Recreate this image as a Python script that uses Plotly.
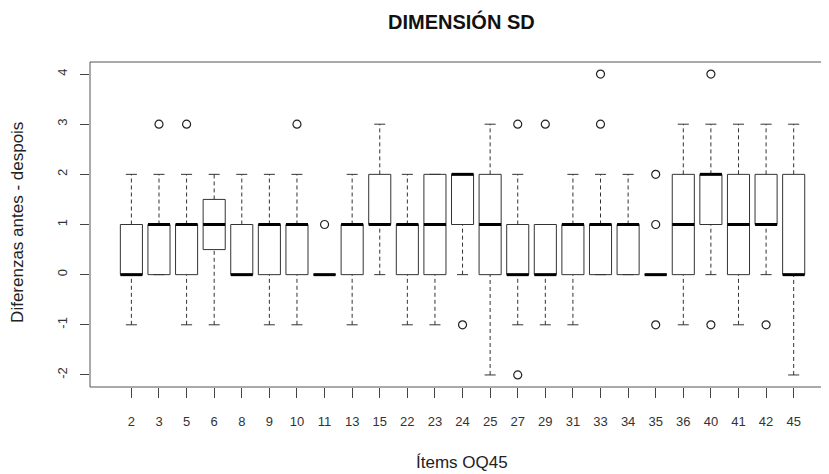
import plotly.graph_objects as go

# ---- data ----
items = [2, 3, 5, 6, 8, 9, 10, 11, 13, 15, 22, 23, 24, 25, 27, 29, 31, 33, 34, 35, 36, 40, 41, 42, 45]
q1 =    [0, 0, 0, 0.5, 0, 0, 0, 0, 0, 1, 0, 0, 1, 0, 0, 0, 0, 0, 0, 0, 0, 1, 0, 1, 0]
med =   [0, 1, 1, 1,   0, 1, 1, 0, 1, 1, 1, 1, 2, 1, 0, 0, 1, 1, 1, 0, 1, 2, 1, 1, 0]
q3 =    [1, 1, 1, 1.5, 1, 1, 1, 0, 1, 2, 1, 2, 2, 2, 1, 1, 1, 1, 1, 0, 2, 2, 2, 2, 2]
lower = [-1, 0, -1, -1, 0, -1, -1, 0, -1, 0, -1, -1, 0, -2, -1, -1, -1, 0, 0, 0, -1, 0, -1, 0, -2]
upper = [2, 2, 2, 2, 2, 2, 2, 0, 2, 3, 2, 2, 2, 3, 2, 1, 2, 2, 2, 0, 3, 3, 3, 3, 3]
outliers = {3: [3], 5: [3], 10: [3], 11: [1], 24: [-1], 27: [3, -2], 29: [3],
            33: [3, 4], 35: [2, 1, -1], 40: [4, -1], 42: [-1]}
yticks = [-2, -1, 0, 1, 2, 3, 4]

title = "DIMENSIÓN SD"
xlabel = "Ítems OQ45"
ylabel = "Diferenzas antes - despois"

BW = 0.4   # half box width
SW = 0.2   # half staple width
FONT = "Liberation Sans, Arial, sans-serif"

pos = list(range(1, len(items) + 1))

bx, by = [], []
wx, wy = [], []
sx, sy = [], []
mx, my = [], []
ox, oy = [], []
for p, it, a, m, b, lo, hi in zip(pos, items, q1, med, q3, lower, upper):
    bx += [p - BW, p + BW, p + BW, p - BW, p - BW, None]
    by += [a, a, b, b, a, None]
    if hi > b:
        wx += [p, p, None]; wy += [b, hi, None]
    if lo < a:
        wx += [p, p, None]; wy += [lo, a, None]
    sx += [p - SW, p + SW, None, p - SW, p + SW, None]
    sy += [hi, hi, None, lo, lo, None]
    mx += [p - BW, p + BW, None]
    my += [m, m, None]
    for v in outliers.get(it, []):
        ox.append(p); oy.append(v)

fig = go.Figure()
fig.add_trace(go.Scatter(x=wx, y=wy, mode="lines", hoverinfo="skip",
                         line=dict(color="#333333", width=1, dash="4px,3px")))
fig.add_trace(go.Scatter(x=sx, y=sy, mode="lines", hoverinfo="skip",
                         line=dict(color="#333333", width=1)))
fig.add_trace(go.Scatter(x=bx, y=by, mode="lines", hoverinfo="skip",
                         line=dict(color="#333333", width=1)))
fig.add_trace(go.Scatter(x=mx, y=my, mode="lines", hoverinfo="skip",
                         line=dict(color="#000000", width=3)))
fig.add_trace(go.Scatter(x=ox, y=oy, mode="markers", hoverinfo="skip",
                         marker=dict(symbol="circle-open", size=8,
                                     line=dict(color="#222222", width=1.2), color="#222222")))

# the page body adds an 8px margin, so the figure is 8px smaller than the window
fig.update_layout(
    width=821, height=466,
    margin=dict(l=82, r=0, t=54, b=87),
    paper_bgcolor="white", plot_bgcolor="white",
    showlegend=False,
    font=dict(family=FONT, color="#222222", size=13),
    xaxis=dict(range=[-0.5, 26.28], tickvals=pos, ticktext=[str(i) for i in items],
               ticks="outside", ticklen=10, tickcolor="#444444", tickwidth=1,
               showgrid=False, zeroline=False, showline=False,
               tickfont=dict(size=13, family=FONT, color="#333333"),
               ticklabelstandoff=12),
    yaxis=dict(range=[-2.24, 4.24], tickvals=yticks, ticktext=[str(v) for v in yticks],
               ticks="outside", ticklen=9, tickcolor="#444444", tickwidth=1,
               tickangle=-90,
               showgrid=False, zeroline=False, showline=False,
               tickfont=dict(size=13, family=FONT, color="#333333"),
               ticklabelstandoff=8),
    shapes=[dict(type="rect", xref="paper", yref="paper", x0=0, x1=1.2, y0=0, y1=1,
                 line=dict(color="#555555", width=1), layer="above")],
    annotations=[
        dict(text="<b>" + title + "</b>", xref="paper", yref="paper",
             x=0.503, y=1.1246, xanchor="center", yanchor="middle", showarrow=False,
             font=dict(size=20, family=FONT, color="#111111")),
        dict(text=xlabel, xref="paper", yref="paper",
             x=0.503, y=-0.231, xanchor="center", yanchor="middle", showarrow=False,
             font=dict(size=17, family=FONT, color="#222222")),
        dict(text=ylabel, xref="paper", yref="paper", textangle=-90,
             x=-0.0974, y=0.505, xanchor="center", yanchor="middle", showarrow=False,
             font=dict(size=17, family=FONT, color="#222222")),
    ],
)

fig.write_html("out.html")
